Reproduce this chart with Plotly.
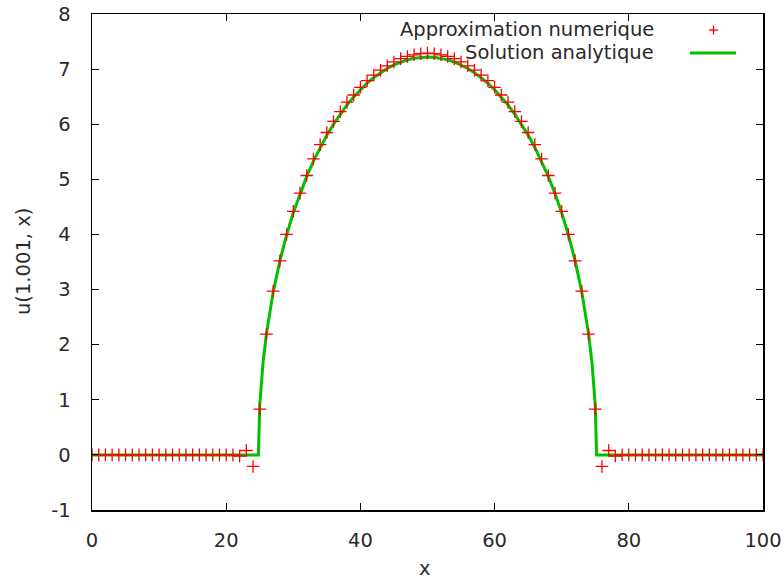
import plotly.graph_objects as go

# Numerical approximation, x = 0..100 step 1
num_x = list(range(0, 101))
num_y = ([0.0] * 22 +
         [-0.02, 0.08, -0.21, 0.83, 2.19, 2.97, 3.52, 4.00, 4.42, 4.75,
          5.07, 5.37, 5.63, 5.85, 6.05, 6.23, 6.40, 6.53, 6.67, 6.79,
          6.89, 6.98, 7.06, 7.13, 7.19, 7.23, 7.26, 7.28,
          7.29,
          7.28, 7.26, 7.23, 7.19, 7.13, 7.06, 6.98, 6.89, 6.79, 6.67,
          6.53, 6.40, 6.23, 6.05, 5.85, 5.63, 5.37, 5.07, 4.75, 4.42,
          4.00, 3.52, 2.97, 2.19, 0.83, -0.21, 0.08, -0.02] +
         [0.0] * 22)

# Analytic solution
ana_x = [0, 24.8, 25, 25.25, 25.5, 26, 26.5, 27, 28, 29, 30, 31, 32, 33, 34,
         35, 36, 37, 38, 39, 40, 41, 42, 43, 44, 45, 46, 47, 48, 49, 50,
         51, 52, 53, 54, 55, 56, 57, 58, 59, 60, 61, 62, 63, 64, 65, 66,
         67, 68, 69, 70, 71, 72, 73, 73.5, 74, 74.5, 74.75, 75, 75.2, 100]
ana_y = [0, 0, 0.908, 1.358, 1.690, 2.201, 2.607, 2.950, 3.521, 3.991,
         4.392, 4.743, 5.053, 5.330, 5.578, 5.802, 6.003, 6.185, 6.349,
         6.496, 6.627, 6.744, 6.847, 6.936, 7.012, 7.077, 7.129, 7.169,
         7.197, 7.214, 7.220,
         7.214, 7.197, 7.169, 7.129, 7.077, 7.012, 6.936, 6.847, 6.744,
         6.627, 6.496, 6.349, 6.185, 6.003, 5.802, 5.578, 5.330, 5.053,
         4.743, 4.392, 3.991, 3.521, 2.950, 2.607, 2.201, 1.690, 1.358,
         0.908, 0, 0]

x_ticks = [0, 20, 40, 60, 80, 100]
x_ticklabels = ["0", "20", "40", "60", "80", "100"]
y_ticks = [-1, 0, 1, 2, 3, 4, 5, 6, 7, 8]
y_ticklabels = ["-1", "0", "1", "2", "3", "4", "5", "6", "7", "8"]

label_num = "Approximation numerique"
label_ana = "Solution analytique"
x_title = "x"
y_title = "u(1.001, x)"

RED = "#ff0000"
GREEN = "#00c000"
FONT = "DejaVu Sans"
TXT = "#2a2a2a"
FS = 19.5

W, H = 784, 582
ML, MR, MT, MB = 92, 21, 14, 72
PW, PH = W - ML - MR, H - MT - MB


def px(xp):
    return (xp - ML) / PW


def py(yp):
    return (H - MB - yp) / PH


fig = go.Figure()
fig.add_trace(go.Scatter(x=ana_x, y=ana_y, mode="lines",
                         line=dict(color=GREEN, width=3), name=label_ana,
                         showlegend=False))
fig.add_trace(go.Scatter(x=num_x, y=num_y, mode="markers",
                         marker=dict(symbol="cross-thin", size=9,
                                     line=dict(color=RED, width=1.3)),
                         name=label_num, showlegend=False))

axis_common = dict(showgrid=False, zeroline=False, showline=True,
                   linecolor="black", linewidth=1.5, mirror="ticks",
                   ticks="inside", ticklen=7, tickwidth=1.2,
                   tickcolor="black", automargin=False,
                   tickfont=dict(family=FONT, size=FS, color=TXT))

fig.update_layout(
    width=W, height=H,
    margin=dict(l=ML, r=MR, t=MT, b=MB),
    paper_bgcolor="white", plot_bgcolor="white",
    xaxis=dict(range=[0, 100], tickvals=x_ticks, ticktext=x_ticklabels,
               ticklabelstandoff=12, **axis_common),
    yaxis=dict(range=[-1, 8], tickvals=y_ticks, ticktext=y_ticklabels,
               ticklabelstandoff=16, **axis_common),
)

# axis titles
fig.add_annotation(xref="paper", yref="paper", x=px(425), y=py(568),
                   text=x_title, showarrow=False, xanchor="center",
                   yanchor="middle", font=dict(family=FONT, size=FS, color=TXT))
fig.add_annotation(xref="paper", yref="paper", x=px(23), y=py(262),
                   text=y_title, showarrow=False, xanchor="center",
                   yanchor="middle", textangle=-90,
                   font=dict(family=FONT, size=FS, color=TXT))

# gnuplot-style key (text right-aligned, sample on the right)
fig.add_annotation(xref="paper", yref="paper", x=px(656), y=py(30),
                   text=label_num, showarrow=False, xanchor="right",
                   yanchor="middle", font=dict(family=FONT, size=FS, color=TXT))
fig.add_annotation(xref="paper", yref="paper", x=px(656), y=py(53),
                   text=label_ana, showarrow=False, xanchor="right",
                   yanchor="middle", font=dict(family=FONT, size=FS, color=TXT))
# sample line for analytic
fig.add_shape(type="line", xref="paper", yref="paper",
              x0=px(690), x1=px(736), y0=py(53), y1=py(53),
              line=dict(color=GREEN, width=3))
# sample plus for numeric
fig.add_shape(type="line", xref="paper", yref="paper",
              x0=px(709), x1=px(718), y0=py(30), y1=py(30),
              line=dict(color=RED, width=1.3))
fig.add_shape(type="line", xref="paper", yref="paper",
              x0=px(713.5), x1=px(713.5), y0=py(25.5), y1=py(34.5),
              line=dict(color=RED, width=1.3))

fig.write_html("out.html",
               config={"displayModeBar": False, "staticPlot": True},
               post_script="document.body.style.margin='0';"
                           "document.body.style.padding='0';"
                           "document.body.style.overflow='hidden';")
